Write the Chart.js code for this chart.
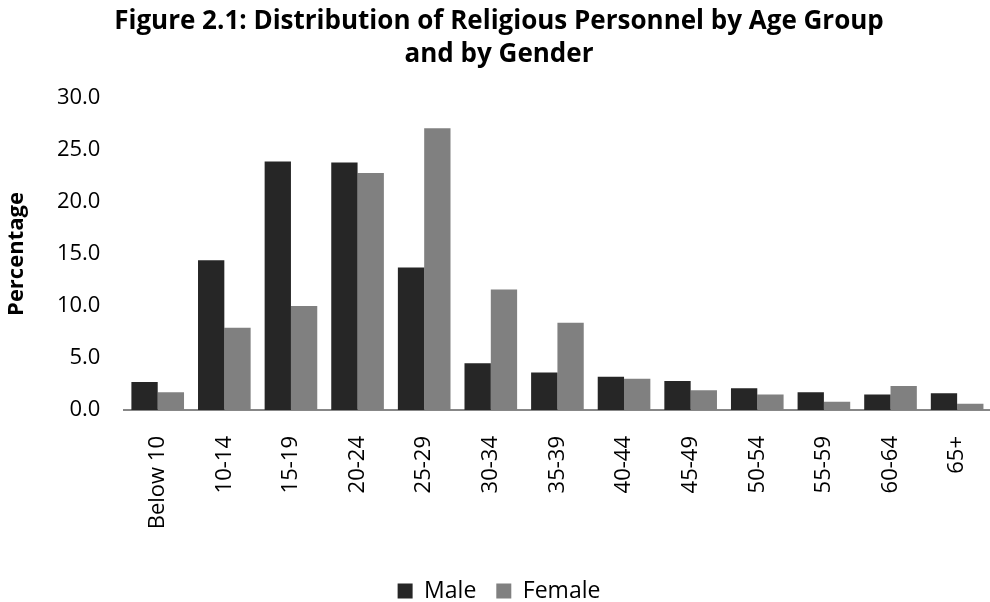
<!DOCTYPE html>
<html>
<head>
<meta charset="utf-8">
<script src="https://cdn.jsdelivr.net/npm/chart.js@4/dist/chart.umd.min.js"></script>
<style>
  html, body { margin: 0; padding: 0; background: #fff; overflow: hidden; }
  #wrap { position: relative; width: 990px; height: 602px; overflow: hidden; }
  #box { position: absolute; left: 0; top: 0; width: 1010px; height: 630px; }
</style>
</head>
<body>
<div id="wrap"><div id="box"><canvas id="chart"></canvas></div></div>
<script>
// Age groups on the category axis
const ageGroups = ['Below 10', '10-14', '15-19', '20-24', '25-29', '30-34', '35-39',
                   '40-44', '45-49', '50-54', '55-59', '60-64', '65+'];

// Share of religious personnel in each age group (%)
const malePct   = [2.7, 14.4, 23.9, 23.8, 13.7, 4.5, 3.6, 3.2, 2.8, 2.1, 1.7, 1.5, 1.6];
const femalePct = [1.7, 7.9, 10.0, 22.8, 27.1, 11.6, 8.4, 3.0, 1.9, 1.5, 0.8, 2.3, 0.6];

// Value axis ticks
const yTicks = [0, 5, 10, 15, 20, 25, 30];

const FONT = "'Open Sans', 'DejaVu Sans', sans-serif";

new Chart(document.getElementById('chart'), {
  type: 'bar',
  data: {
    labels: ageGroups,
    datasets: [
      { label: 'Male',   data: malePct,   backgroundColor: '#262626' },
      { label: 'Female', data: femalePct, backgroundColor: '#808080' }
    ]
  },
  options: {
    responsive: true,
    maintainAspectRatio: false,
    animation: false,
    devicePixelRatio: 1,
    layout: { padding: { left: 0, right: 12, top: 0, bottom: 17.5 } },
    datasets: { bar: { categoryPercentage: 0.79, barPercentage: 1.0 } },
    plugins: {
      tooltip: { enabled: false },
      title: {
        display: true,
        text: ['Figure 2.1: Distribution of Religious Personnel by Age Group', 'and by Gender'],
        color: '#000',
        font: { family: FONT, size: 26, weight: 'bold', lineHeight: 1.27 },
        padding: { top: 5, bottom: 27 }
      },
      legend: {
        position: 'bottom',
        labels: {
          color: '#000',
          font: { family: FONT, size: 23 },
          boxWidth: 15,
          boxHeight: 15,
          padding: 20
        }
      }
    },
    scales: {
      x: {
        grid: { display: false, drawTicks: false },
        border: { display: true, color: '#878787', width: 2 },
        ticks: {
          color: '#000',
          font: { family: FONT, size: 22 },
          minRotation: 90,
          maxRotation: 90,
          autoSkip: false,
          padding: 26
        },
        afterFit: (scale) => { scale.height = 149.5; }
      },
      y: {
        min: yTicks[0],
        max: yTicks[yTicks.length - 1],
        afterBuildTicks: (scale) => { scale.ticks = yTicks.map(v => ({ value: v })); },
        grid: { display: false, drawTicks: false },
        border: { display: false },
        ticks: {
          color: '#000',
          font: { family: FONT, size: 22 },
          padding: 24,
          callback: (v) => Number(v).toFixed(1)
        },
        title: {
          display: true,
          text: 'Percentage',
          color: '#000',
          font: { family: FONT, size: 22, weight: 'bold', lineHeight: 1.2 },
          padding: { top: 3.3, bottom: 0 }
        },
        afterFit: (scale) => { scale.width = 124.4; }
      }
    }
  }
});
</script>
</body>
</html>
